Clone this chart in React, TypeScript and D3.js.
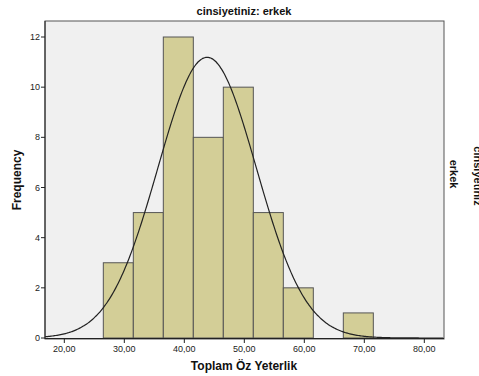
import React from "react";
import * as d3 from "d3";

const binStarts = [26.5, 31.5, 36.5, 41.5, 46.5, 51.5, 56.5, 61.5, 66.5];
const binWidth = 5;
const counts = [3, 5, 12, 8, 10, 5, 2, 0, 1];
const xTicks = [20, 30, 40, 50, 60, 70, 80];
const yTicks = [0, 2, 4, 6, 8, 10, 12];
const mean = 43.8;
const sd = 8.2;
const n = 46;

export default function App() {
  const W = 479, H = 376;
  const left = 45, right = 444, top = 21, bottom = 339;
  const x = d3.scaleLinear().domain([16.78, 83.28]).range([left, right]);
  const y = d3.scaleLinear().domain([0, 12]).range([bottom - 1, 37]);
  const pts = d3.range(16.78, 83.28, 0.2).map((v) => [v, (n * binWidth) / (sd * Math.sqrt(2 * Math.PI)) * Math.exp(-0.5 * ((v - mean) / sd) ** 2)] as [number, number]);
  const line = d3.line<[number, number]>().x((d) => x(d[0])).y((d) => y(d[1])).curve(d3.curveBasis);
  const font = "'Liberation Sans', Arial, sans-serif";
  return (
    <svg width={W} height={H} style={{ position: "absolute", left: 0, top: 0, background: "#fff" }} fontFamily={font}>
      <rect x={left} y={top} width={right - left} height={bottom - top} fill="#f0f0f0" stroke="#555" strokeWidth={1} />
      {binStarts.map((b, i) =>
        counts[i] > 0 ? (
          <rect key={i} x={x(b)} y={y(counts[i])} width={x(b + binWidth) - x(b)} height={y(0) - y(counts[i])} fill="#d3ce97" stroke="#555" strokeWidth={1} />
        ) : null
      )}
      <path d={line(pts) || ""} fill="none" stroke="#222" strokeWidth={1.2} />
      <line x1={left} x2={left} y1={top} y2={bottom} stroke="#222" />
      <line x1={left} x2={right} y1={bottom - 0.5} y2={bottom - 0.5} stroke="#222" />
      {yTicks.map((t) => (
        <g key={t}>
          <line x1={left - 4} x2={left} y1={y(t)} y2={y(t)} stroke="#222" />
          <text x={left - 5} y={y(t) + 3} textAnchor="end" fontSize={9} fill="#222">{t}</text>
        </g>
      ))}
      {xTicks.map((t) => (
        <g key={t}>
          <line x1={x(t)} x2={x(t)} y1={bottom} y2={bottom + 4} stroke="#222" />
          <text x={x(t)} y={bottom + 13} textAnchor="middle" fontSize={9} fill="#222">{t.toFixed(2).replace(".", ",")}</text>
        </g>
      ))}
      <text x={244} y={15} textAnchor="middle" fontSize={11} fontWeight="bold" fill="#111">cinsiyetiniz: erkek</text>
      <text x={244} y={370} textAnchor="middle" fontSize={12} fontWeight="bold" fill="#111">Toplam Öz Yeterlik</text>
      <text transform={`translate(21,180) rotate(-90)`} textAnchor="middle" fontSize={12} fontWeight="bold" fill="#111">Frequency</text>
      <text transform={`translate(474,176) rotate(90)`} textAnchor="middle" fontSize={11} fontWeight="bold" fill="#111">cinsiyetiniz</text>
      <text transform={`translate(450,174) rotate(90)`} textAnchor="middle" fontSize={11} fontWeight="bold" fill="#111">erkek</text>
    </svg>
  );
}
